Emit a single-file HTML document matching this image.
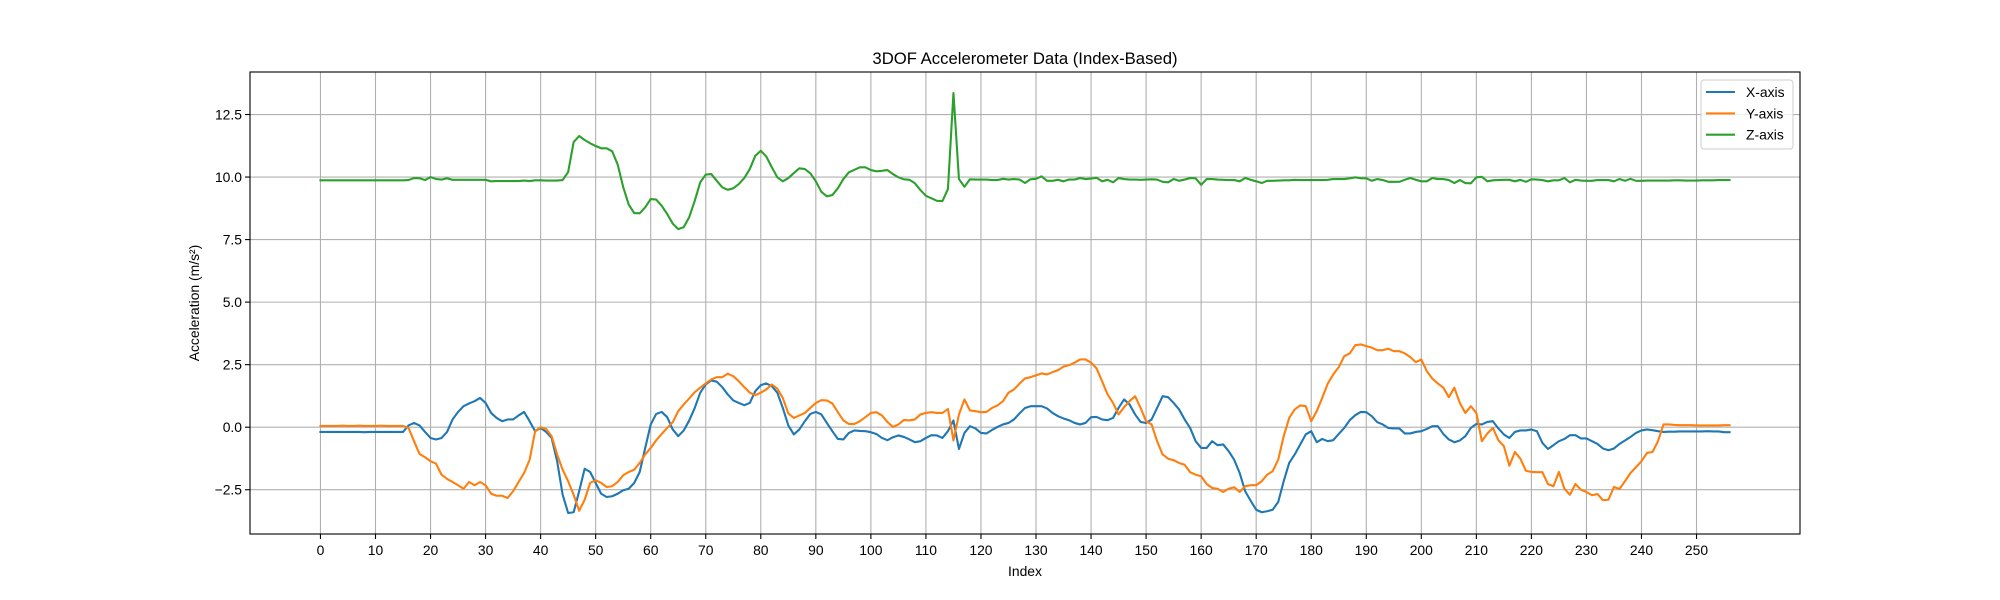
<!DOCTYPE html>
<html><head><meta charset="utf-8"><style>
html,body{margin:0;padding:0;background:#fff;}
svg{display:block;font-family:"Liberation Sans","DejaVu Sans",sans-serif;}
</style></head><body>
<svg id="chart" width="2000" height="600" viewBox="0 0 2000 600" xmlns="http://www.w3.org/2000/svg">
<rect width="2000" height="600" fill="#fff"/>
<g id="grid"></g>
<g id="series"></g>
<rect x="250" y="72" width="1550" height="462" fill="none" stroke="#000" stroke-width="1.1"/>
<g id="ticks"></g>
<text x="1025" y="64" text-anchor="middle" font-size="16.7" fill="#000">3DOF Accelerometer Data (Index-Based)</text>
<text x="1025" y="576" text-anchor="middle" font-size="13.9" fill="#000">Index</text>
<text x="0" y="0" transform="translate(199,303) rotate(-90)" text-anchor="middle" font-size="13.9" fill="#000">Acceleration (m/s²)</text>
<g>
<rect x="1701" y="80" width="92" height="69" rx="3" fill="#fff" fill-opacity="0.8" stroke="#ccc" stroke-width="1"/>
<line x1="1706" y1="92" x2="1735" y2="92" stroke="#1f77b4" stroke-width="2.1"/>
<text x="1746" y="97" font-size="13.9">X-axis</text>
<line x1="1706" y1="113.4" x2="1735" y2="113.4" stroke="#ff7f0e" stroke-width="2.1"/>
<text x="1746" y="118.4" font-size="13.9">Y-axis</text>
<line x1="1706" y1="134.7" x2="1735" y2="134.7" stroke="#2ca02c" stroke-width="2.1"/>
<text x="1746" y="139.7" font-size="13.9">Z-axis</text>
</g>
</svg>
<script>
const xTicks = [0,10,20,30,40,50,60,70,80,90,100,110,120,130,140,150,160,170,180,190,200,210,220,230,240,250];
const yTicks = [-2.5,0,2.5,5,7.5,10,12.5];
const yTickLabels = ["−2.5","0.0","2.5","5.0","7.5","10.0","12.5"];
const seriesNames = ["X-axis","Y-axis","Z-axis"];
const xValues = [-0.19,-0.19,-0.19,-0.19,-0.19,-0.19,-0.19,-0.19,-0.2,-0.19,-0.19,-0.19,-0.19,-0.19,-0.19,-0.19,
0.07,0.17,0.07,-0.19,-0.43,-0.49,-0.43,-0.19,0.31,0.61,0.84,0.95,1.04,1.17,0.97,0.57,0.37,0.24,0.31,0.31,0.47,0.61,0.24,-0.16,-0.03,
-0.19,-0.43,-1.36,-2.7,-3.43,-3.4,-2.56,-1.66,-1.79,-2.23,-2.66,-2.79,-2.76,-2.66,-2.52,-2.46,-2.23,-1.79,-0.83,0.11,0.53,0.61,0.4,-0.09,-0.36,-0.13,0.27,0.77,1.38,1.71,1.87,1.82,1.6,1.31,1.07,0.97,0.88,0.97,1.44,1.68,1.75,1.64,1.38,0.77,0.07,-0.29,-0.09,0.24,0.53,0.61,0.51,0.17,-0.16,-0.47,-0.49,-0.23,-0.13,-0.15,-0.16,-0.2,-0.27,-0.43,-0.52,-0.4,-0.33,-0.39,-0.49,-0.6,-0.56,-0.43,-0.32,-0.33,-0.43,-0.16,0.27,-0.87,-0.23,0.04,-0.05,
-0.23,-0.25,-0.11,0.01,0.11,0.17,0.31,0.55,0.77,0.84,0.84,0.84,0.75,0.57,0.44,0.35,0.28,0.17,0.11,0.17,0.4,0.41,0.31,0.28,0.37,0.77,1.11,0.91,0.51,0.21,0.17,0.31,0.77,1.24,1.2,0.97,0.71,0.31,-0.03,-0.56,-0.83,-0.83,-0.56,-0.72,-0.69,-0.96,-1.3,-1.83,-2.56,-2.94,-3.3,-3.4,-3.36,
-3.3,-2.99,-2.16,-1.43,-1.09,-0.69,-0.29,-0.16,-0.6,-0.47,-0.56,-0.52,-0.27,-0.03,0.28,0.48,0.61,0.6,0.44,0.2,0.11,-0.03,-0.05,-0.05,-0.25,-0.25,-0.19,-0.16,-0.07,0.04,0.04,-0.27,-0.49,-0.6,-0.53,-0.36,-0.03,0.13,0.11,0.21,0.24,-0.05,-0.29,-0.43,-0.19,-0.13,-0.13,-0.09,-0.16,-0.63,-0.87,-0.72,-0.56,-0.47,-0.32,-0.32,-0.45,-0.45,-0.56,-0.67,-0.85,-0.92,-0.85,-0.67,-0.53,-0.39,-0.23,-0.13,-0.09,-0.12,-0.16,-0.19,
-0.18,-0.18,-0.17,-0.17,-0.17,-0.17,-0.17,-0.16,-0.17,-0.17,-0.2,-0.2];
const yValues = [0.05,0.05,0.05,0.05,0.06,0.05,0.05,0.06,0.05,0.05,0.05,0.06,0.05,0.05,0.05,0.05,
-0.03,-0.56,-1.07,-1.2,-1.36,-1.46,-1.9,-2.07,-2.19,-2.32,-2.46,-2.19,-2.32,-2.19,-2.32,-2.66,-2.74,-2.74,-2.83,-2.56,-2.19,-1.83,-1.3,-0.16,0,
-0.07,-0.36,-1.09,-1.7,-2.16,-2.7,-3.34,-2.9,-2.23,-2.12,-2.23,-2.39,-2.36,-2.19,-1.92,-1.79,-1.7,-1.43,-1.09,-0.83,-0.52,-0.27,-0.03,0.2,0.64,0.91,1.15,1.4,1.58,1.75,1.91,2.0,2.0,2.14,2.04,1.84,1.6,1.38,1.28,1.38,1.51,1.71,1.54,1.17,0.55,0.37,0.47,0.57,0.77,0.97,1.08,1.07,0.95,0.6,0.27,0.13,0.13,0.24,0.4,0.57,0.6,0.47,0.21,0.01,0.11,0.29,0.27,0.31,0.51,0.57,0.6,0.57,0.57,0.73,-0.53,0.51,1.11,0.67,0.64,
0.6,0.61,0.77,0.87,1.04,1.38,1.51,1.74,1.95,2.0,2.07,2.15,2.11,2.2,2.28,2.42,2.48,2.58,2.71,2.71,2.58,2.35,1.84,1.31,0.97,0.51,0.8,1.04,1.24,0.77,0.24,0.11,-0.56,-1.09,-1.26,-1.32,-1.43,-1.5,-1.8,-1.9,-1.96,-2.27,-2.43,-2.46,-2.59,-2.46,-2.4,-2.59,-2.36,-2.32,-2.32,-2.16,-1.9,
-1.76,-1.3,-0.36,0.37,0.71,0.87,0.84,0.24,0.64,1.17,1.74,2.11,2.4,2.84,2.95,3.28,3.31,3.24,3.18,3.08,3.08,3.14,3.04,3.04,2.95,2.8,2.6,2.71,2.24,1.94,1.75,1.58,1.2,1.58,0.97,0.57,0.84,0.57,-0.56,-0.25,-0.03,-0.52,-0.76,-1.54,-0.99,-1.26,-1.74,-1.79,-1.8,-1.8,-2.27,-2.36,-1.79,-2.46,-2.7,-2.27,-2.5,-2.59,-2.72,-2.67,-2.92,-2.9,-2.39,-2.47,-2.16,-1.83,-1.6,-1.36,-1.03,-0.99,-0.56,0.11,
0.11,0.09,0.08,0.08,0.08,0.07,0.07,0.07,0.07,0.07,0.08,0.08];
const zValues = [9.87,9.87,9.87,9.87,9.87,9.87,9.87,9.87,9.87,9.87,9.87,9.87,9.87,9.87,9.87,9.87,
9.88,9.96,9.95,9.88,10.0,9.92,9.9,9.95,9.89,9.89,9.89,9.89,9.89,9.89,9.89,9.83,9.84,9.84,9.84,9.84,9.84,9.86,9.84,9.87,9.87,
9.86,9.86,9.86,9.88,10.2,11.4,11.64,11.48,11.35,11.24,11.15,11.15,11.03,10.5,9.6,8.9,8.56,8.55,8.79,9.12,9.1,8.85,8.52,8.14,7.92,8.0,8.4,9.05,9.79,10.1,10.12,9.85,9.59,9.49,9.55,9.72,9.96,10.32,10.85,11.05,10.82,10.39,9.99,9.83,9.96,10.16,10.35,10.32,10.15,9.83,9.41,9.23,9.28,9.55,9.92,10.19,10.29,10.39,10.39,10.28,10.23,10.25,10.28,10.12,9.99,9.91,9.89,9.75,9.48,9.25,9.15,9.05,9.04,9.52,13.36,9.92,9.61,9.91,9.9,
9.9,9.9,9.88,9.88,9.93,9.9,9.92,9.9,9.76,9.91,9.93,10.03,9.85,9.85,9.89,9.83,9.9,9.9,9.96,9.92,9.94,9.97,9.83,9.89,9.79,9.96,9.92,9.9,9.9,9.89,9.9,9.91,9.9,9.81,9.79,9.92,9.85,9.9,9.96,9.95,9.69,9.92,9.92,9.9,9.89,9.88,9.88,9.83,9.96,9.89,9.83,9.76,9.85,
9.85,9.86,9.87,9.87,9.89,9.88,9.88,9.88,9.88,9.88,9.89,9.92,9.92,9.92,9.95,9.99,9.95,9.95,9.85,9.92,9.88,9.81,9.81,9.81,9.89,9.96,9.89,9.83,9.83,9.96,9.92,9.92,9.88,9.76,9.88,9.76,9.75,9.99,10.01,9.83,9.87,9.88,9.89,9.89,9.83,9.89,9.81,9.91,9.9,9.88,9.83,9.87,9.87,9.96,9.79,9.89,9.86,9.85,9.85,9.88,9.88,9.88,9.83,9.92,9.85,9.93,9.85,9.85,9.86,9.86,9.86,9.86,
9.86,9.87,9.87,9.86,9.86,9.86,9.87,9.87,9.87,9.88,9.88,9.88];

const NS = "http://www.w3.org/2000/svg";
const L = 250, R = 1800, T = 72, B = 534;
function extent(arrs){let lo=Infinity,hi=-Infinity;arrs.forEach(a=>a.forEach(v=>{if(v<lo)lo=v;if(v>hi)hi=v;}));return [lo,hi];}
const n = Math.max(xValues.length, yValues.length, zValues.length);
const xMin = -0.05*(n-1), xMax = 1.05*(n-1);
const ext = extent([xValues,yValues,zValues]);
const pad = 0.05*(ext[1]-ext[0]);
const yMin = ext[0]-pad, yMax = ext[1]+pad;
function xs(i){return L + (i - xMin)/(xMax - xMin)*(R-L);}
function ys(v){return B - (v - yMin)/(yMax - yMin)*(B-T);}

const grid = document.getElementById('grid');
const ticks = document.getElementById('ticks');
function mk(tag, attrs, parent){const e=document.createElementNS(NS,tag);for(const k in attrs)e.setAttribute(k,attrs[k]);parent.appendChild(e);return e;}

xTicks.forEach(t=>{
  const x = xs(t);
  const g = mk('line',{x1:x,y1:T,x2:x,y2:B,stroke:'#b0b0b0','stroke-width':1.1},grid);
  
  
  const tk = mk('line',{x1:x,y1:B,x2:x,y2:B+5,stroke:'#000','stroke-width':1.1},ticks);
  
  
  const tl = mk('text',{x:x,y:B+21,'text-anchor':'middle','font-size':13.9,fill:'#000'},ticks);
  tl.textContent = String(t);
  
  
});
yTicks.forEach((t,k)=>{
  const y = ys(t);
  const g = mk('line',{x1:L,y1:y,x2:R,y2:y,stroke:'#b0b0b0','stroke-width':1.1},grid);
  
  
  const tk = mk('line',{x1:L-5,y1:y,x2:L,y2:y,stroke:'#000','stroke-width':1.1},ticks);
  
  
  const tl = mk('text',{x:L-8,y:y+5,'text-anchor':'end','font-size':13.9,fill:'#000'},ticks);
  tl.textContent = yTickLabels[k];
  
  
});

const series = document.getElementById('series');
const colors = ['#1f77b4','#ff7f0e','#2ca02c'];
const lineNames = ['x-axis-line','y-axis-line','z-axis-line'];
[xValues,yValues,zValues].forEach((arr,s)=>{
  const pts = arr.map((v,i)=>xs(i).toFixed(2)+','+ys(v).toFixed(2)).join(' ');
  const pl = mk('polyline',{points:pts,fill:'none',stroke:colors[s],'stroke-width':2.1,'stroke-linejoin':'round','stroke-linecap':'square'},series);
  
  
});
</script>
</body></html>
